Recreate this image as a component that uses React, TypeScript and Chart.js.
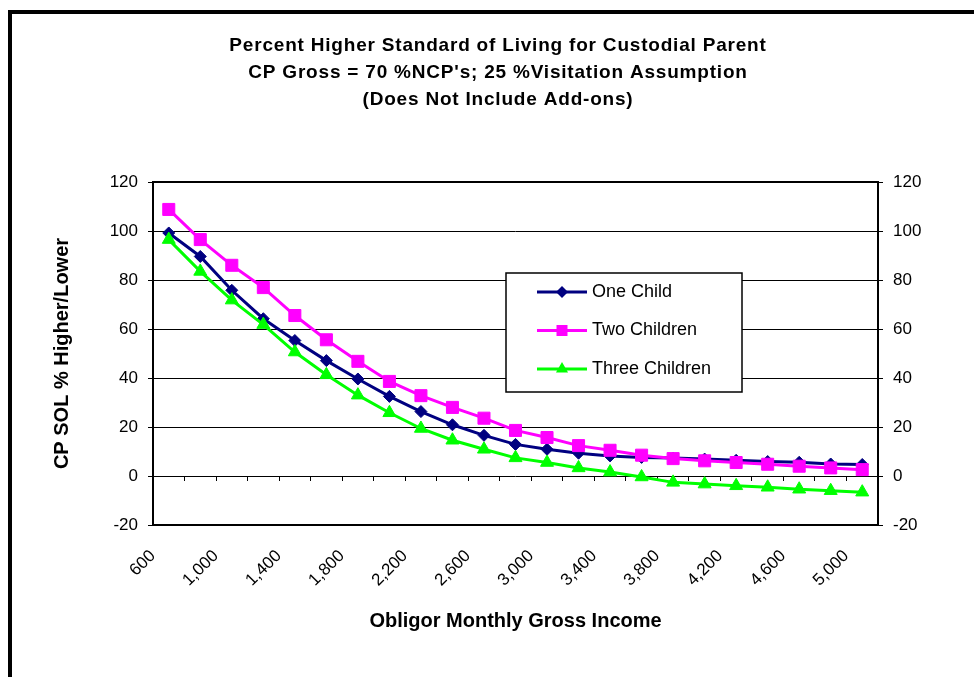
import React, { useEffect, useRef } from 'react';
import { Chart, registerables } from 'chart.js';

Chart.register(...registerables);

const FONT = "'Liberation Sans', Arial, Helvetica, sans-serif";

// Obligor monthly gross income, one category per $200
const incomeLevels = [
  600, 800, 1000, 1200, 1400, 1600, 1800, 2000, 2200, 2400, 2600, 2800,
  3000, 3200, 3400, 3600, 3800, 4000, 4200, 4400, 4600, 4800, 5000,
];

// CP standard of living, % higher (or lower) than the NCP's
const oneChild = [
  99.2, 89.6, 75.8, 64.2, 55.3, 47.1, 39.6, 32.5, 26.3, 20.9, 16.6, 12.9,
  10.9, 9.3, 8.2, 7.6, 7.3, 6.9, 6.4, 5.9, 5.6, 4.9, 4.7,
];
const twoChildren = [
  108.8, 96.5, 86.0, 76.9, 65.5, 55.6, 46.8, 38.6, 32.8, 28.0, 23.6, 18.6,
  15.7, 12.4, 10.5, 8.5, 7.1, 6.2, 5.5, 4.8, 4.0, 3.3, 2.6,
];
const threeChildren = [
  96.5, 83.5, 71.8, 61.8, 50.6, 41.3, 33.0, 25.8, 19.4, 14.6, 10.9, 7.4,
  5.5, 3.3, 1.6, -0.4, -2.6, -3.3, -4.0, -4.6, -5.4, -6.0, -6.6,
];

const seriesNames = ['One Child', 'Two Children', 'Three Children'];
const seriesColors = ['#000080', '#FF00FF', '#00FF00'];
const seriesMarkers = ['rectRot', 'rect', 'triangle'];

const yMin = -20;
const yMax = 120;
const yStep = 20;

const titleLines = [
  'Percent Higher Standard of Living for Custodial Parent',
  "CP Gross = 70 %NCP's; 25 %Visitation Assumption",
  '(Does Not Include Add-ons)',
];
const yAxisTitle = 'CP SOL % Higher/Lower';
const xAxisTitle = 'Obligor Monthly Gross Income';

const fmtIncome = (v: number) => v.toLocaleString('en-US');

// Three-line bold heading above the plot
const headingPlugin = {
  id: 'heading',
  afterDraw(chart: any) {
    const { ctx } = chart;
    ctx.save();
    ctx.fillStyle = '#000';
    ctx.font = `bold 19px ${FONT}`;
    (ctx as any).letterSpacing = '0.8px';
    ctx.textAlign = 'center';
    ctx.textBaseline = 'alphabetic';
    titleLines.forEach((line, i) => ctx.fillText(line, 498, 51 + i * 27));
    ctx.restore();
  },
};

// Heavy frame round the plot area
const plotFramePlugin = {
  id: 'plotFrame',
  beforeDatasetsDraw(chart: any) {
    const { ctx, chartArea: a } = chart;
    ctx.save();
    ctx.strokeStyle = '#000';
    ctx.lineWidth = 2;
    ctx.strokeRect(a.left, a.top, a.right - a.left, a.bottom - a.top);
    ctx.restore();
  },
};

function drawMarker(ctx: CanvasRenderingContext2D, style: string, x: number, y: number) {
  ctx.beginPath();
  if (style === 'rectRot') {
    const r = 6;
    ctx.moveTo(x - r, y);
    ctx.lineTo(x, y - r);
    ctx.lineTo(x + r, y);
    ctx.lineTo(x, y + r);
  } else if (style === 'rect') {
    const h = 5.5;
    ctx.rect(x - h, y - h, 2 * h, 2 * h);
  } else {
    const r = 7;
    ctx.moveTo(x, y - r);
    ctx.lineTo(x + r * 0.866, y + r * 0.5);
    ctx.lineTo(x - r * 0.866, y + r * 0.5);
  }
  ctx.closePath();
  ctx.fill();
}

// Boxed legend sitting inside the plot
const boxedLegendPlugin = {
  id: 'boxedLegend',
  afterDraw(chart: any) {
    const { ctx } = chart;
    const box = { x: 506, y: 273, w: 236, h: 119 };
    ctx.save();
    ctx.fillStyle = '#fff';
    ctx.fillRect(box.x, box.y, box.w, box.h);
    ctx.strokeStyle = '#000';
    ctx.lineWidth = 1.5;
    ctx.strokeRect(box.x, box.y, box.w, box.h);
    chart.data.datasets.forEach((ds: any, i: number) => {
      const y = 292 + i * 38.5;
      ctx.strokeStyle = ds.borderColor;
      ctx.lineWidth = 3;
      ctx.beginPath();
      ctx.moveTo(537, y);
      ctx.lineTo(587, y);
      ctx.stroke();
      ctx.fillStyle = ds.borderColor;
      drawMarker(ctx, ds.pointStyle, 562, y);
      ctx.fillStyle = '#000';
      ctx.font = `18px ${FONT}`;
      ctx.textAlign = 'left';
      ctx.textBaseline = 'middle';
      ctx.fillText(ds.label, 592, y);
    });
    ctx.restore();
  },
};

export default function App() {
  const canvasRef = useRef<HTMLCanvasElement | null>(null);

  useEffect(() => {
    const canvas = canvasRef.current;
    if (!canvas) return;
    const seriesValues = [oneChild, twoChildren, threeChildren];
    const pointRadii = [6, 8.5, 7.5];

    const chart = new Chart(canvas, {
      type: 'line',
      data: {
        labels: incomeLevels.map(String),
        datasets: seriesValues.map((values, i) => ({
          label: seriesNames[i],
          data: values,
          borderColor: seriesColors[i],
          backgroundColor: seriesColors[i],
          pointBackgroundColor: seriesColors[i],
          pointBorderColor: seriesColors[i],
          pointStyle: seriesMarkers[i] as any,
          pointRadius: pointRadii[i],
          pointBorderWidth: 1,
          borderWidth: 3,
          tension: 0,
          fill: false,
          order: 3 - i,
          xAxisID: 'x',
          yAxisID: 'y',
        })),
      },
      options: {
        responsive: false,
        animation: false,
        devicePixelRatio: 1,
        layout: { padding: { left: 0, right: 0, top: 182, bottom: 0 } },
        plugins: {
          legend: { display: false },
          title: { display: false },
          tooltip: { enabled: false },
        },
        scales: {
          x: {
            type: 'category',
            position: 'bottom',
            offset: true,
            grid: { display: false, drawTicks: false },
            border: { display: false },
            ticks: {
              autoSkip: false,
              minRotation: 45,
              maxRotation: 45,
              padding: 21,
              labelOffset: -16,
              color: '#000',
              font: { size: 17, family: FONT },
              callback: (_v: any, i: number) => (i % 2 === 0 ? fmtIncome(incomeLevels[i]) : ''),
            },
            title: {
              display: true,
              text: xAxisTitle,
              color: '#000',
              font: { size: 20, weight: 'bold', family: FONT },
              padding: { top: 0, bottom: 44 },
            },
            afterFit: (s: any) => {
              s.height = 152;
            },
          },
          xZero: {
            type: 'category',
            position: { y: 0 } as any,
            offset: true,
            grid: {
              display: true,
              offset: true,
              drawOnChartArea: false,
              drawTicks: true,
              tickLength: 5,
              color: '#000',
              lineWidth: 1,
            },
            border: { display: false },
            ticks: { display: false, autoSkip: false },
          },
          y: {
            position: 'left',
            min: yMin,
            max: yMax,
            ticks: {
              stepSize: yStep,
              padding: 10,
              color: '#000',
              font: { size: 17, family: FONT },
            },
            grid: { color: '#000', lineWidth: 1, drawTicks: true, tickLength: 5 },
            border: { display: false },
            title: {
              display: true,
              text: yAxisTitle,
              color: '#000',
              font: { size: 20, weight: 'bold', family: FONT },
              padding: { top: 50, bottom: 0 },
            },
            afterFit: (s: any) => {
              s.width = 153;
            },
          },
          y2: {
            position: 'right',
            min: yMin,
            max: yMax,
            ticks: {
              stepSize: yStep,
              padding: 10,
              color: '#000',
              font: { size: 17, family: FONT },
            },
            grid: {
              drawOnChartArea: false,
              color: '#000',
              lineWidth: 1,
              drawTicks: true,
              tickLength: 5,
            },
            border: { display: false },
            afterFit: (s: any) => {
              s.width = 96;
            },
          },
        },
      } as any,
      plugins: [headingPlugin, plotFramePlugin, boxedLegendPlugin],
    });

    return () => chart.destroy();
  }, []);

  return (
    <div
      style={{
        position: 'fixed',
        left: 0,
        top: 0,
        width: 974,
        height: 677,
        background: '#fff',
        overflow: 'hidden',
      }}
    >
      <div
        style={{
          position: 'absolute',
          left: 8,
          top: 10,
          width: 1000,
          height: 700,
          borderLeft: '4px solid #000',
          borderTop: '4px solid #000',
          boxSizing: 'border-box',
        }}
      />
      <canvas
        ref={canvasRef}
        width={974}
        height={677}
        style={{ position: 'absolute', left: 0, top: 0, width: 974, height: 677 }}
      />
    </div>
  );
}
